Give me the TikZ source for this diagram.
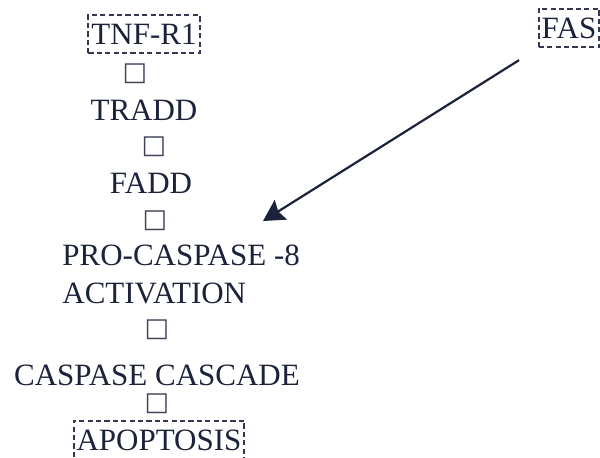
\documentclass[tikz,border=0pt]{standalone}
\usepackage{fontspec}
\setmainfont{Liberation Serif}
\newfontfamily\symfont{DejaVu Sans}
\usetikzlibrary{arrows.meta}
\definecolor{inkN}{RGB}{28,34,58}
\tikzset{
  lbl/.style={text=inkN, font=\fontsize{15.5}{19}\selectfont, inner sep=0pt},
  dashbox/.style={lbl, draw=inkN!90, dash pattern=on 2.6pt off 1.6pt, line width=1pt,
    inner xsep=1.5pt, inner ysep=4.5pt},
  gap/.style={text=inkN!85, font=\symfont\fontsize{13}{15}\selectfont, inner sep=0pt},
  sig/.style={-{Stealth[length=10.5pt, width=11.5pt, inset=1.5pt]}, line width=1.1pt, draw=inkN}
}

\begin{document}
\begin{tikzpicture}[x=0.5pt, y=-0.5pt]
\useasboundingbox (0,0) rectangle (600,457);
% ===== TNF-R1 chain, top to bottom =====
\node[dashbox] (tnfr) at (144,34) {TNF-R1};
\node[gap] (g1) at (135,74) {□};
\node[lbl, anchor=base] (tradd) at (144,120) {TRADD};
\node[gap] (g2) at (154,147) {□};
\node[lbl, anchor=base] (fadd) at (151,193) {FADD};
\node[gap] (g3) at (155,221) {□};
\node[lbl, anchor=base west] (procasp) at (62,265) {PRO-CASPASE -8};
\node[lbl, anchor=base west] (activ) at ([yshift=-19pt]procasp.base west) {ACTIVATION};
\node[gap] (g4) at (157,330) {□};
\node[lbl, anchor=base] (cascade) at (157,385) {CASPASE CASCADE};
\node[gap] (g5) at (157,404) {□};
\node[dashbox] (apopt) at (159,440) {APOPTOSIS};
% ===== FAS joins at pro-caspase-8 =====
\node[dashbox] (fas) at (569,28) {FAS};
\coordinate (hit) at (263,221);
\draw[sig, shorten <=11pt] (fas.south west) -- (hit);
\end{tikzpicture}
\end{document}
